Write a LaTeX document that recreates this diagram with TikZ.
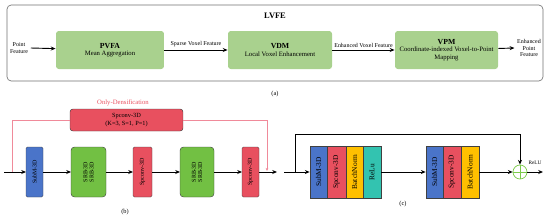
\documentclass[tikz,border=0pt]{standalone}
\usepackage{fontspec}
\setmainfont{Liberation Serif}
\usetikzlibrary{arrows.meta, fit}
\definecolor{stagegreen}{HTML}{A9D18E}
\definecolor{srbgreen}{HTML}{72C043}
\definecolor{submblue}{HTML}{4A74C9}
\definecolor{convred}{HTML}{E8505F}
\definecolor{bnyellow}{HTML}{FFC000}
\definecolor{reluteal}{HTML}{33C3B0}
\definecolor{denspink}{HTML}{F08A9A}
\definecolor{sumgreen}{HTML}{7CCB4A}
\definecolor{framegray}{HTML}{707070}

\begin{document}
\begin{tikzpicture}[
  x=0.05cm, y=-0.05cm,
  >={Stealth[length=2.4mm, width=2mm]},
  line width=1.3pt,
  stage/.style={fill=stagegreen, rounded corners=4pt, align=center,
    minimum height=1.9cm, inner sep=1pt, font=\fontsize{9.5}{10.5}\selectfont},
  flow/.style={->, black, line width=1.3pt},
  lbl/.style={font=\fontsize{8.5}{9.5}\selectfont, align=center},
  vblock/.style={rotate=90, draw=black!75, line width=0.6pt, inner sep=0pt,
    outer sep=0pt, align=center, font=\fontsize{8.5}{9}\selectfont},
  cblock/.style={vblock, rounded corners=0pt, minimum width=2.6cm,
    font=\fontsize{10.5}{11}\selectfont},
  densline/.style={denspink, line width=0.9pt},
  caption/.style={font=\fontsize{9}{10}\selectfont}
]
\useasboundingbox (0,0) rectangle (550,220);

% ── (a) LVFE overview ──
\draw[framegray, line width=0.9pt, rounded corners=6pt] (7,5) rectangle (543,81);
\node[font=\fontsize{12}{13}\selectfont\bfseries] (lvfe) at (275,16) {LVFE};

\node[stage, minimum width=5.4cm] (pvfa) at (110,50)
  {{\fontsize{11}{12}\selectfont\bfseries PVFA}\\Mean Aggregation};
\node[stage, minimum width=5.2cm] (vdm) at (280,50)
  {{\fontsize{11}{12}\selectfont\bfseries VDM}\\Local Voxel Enhancement};
\node[stage, minimum width=5.15cm] (vpm) at (446.5,50)
  {{\fontsize{11}{12}\selectfont\bfseries VPM}\\Coordinate-indexed Voxel-to-Point\\Mapping};

\node[lbl] (ptin) at (19,48) {Point\\Feature};
\node[lbl] (ptout) at (529,48) {Enhanced\\Point\\Feature};

\draw[flow] (ptin.east) -- (pvfa);
\draw[flow] (pvfa) -- node[lbl, above] {Sparse Voxel Feature} (vdm);
\draw[flow] (vdm) -- node[lbl, above] {Enhanced Voxel Feature} (vpm);
\draw[flow] (vpm) -- (ptout.west);

\node[caption] (capa) at (275,94) {(a)};

% ── (b) densification branch ──
\node[convred, font=\fontsize{9.5}{10.5}\selectfont] (densnote) at (123,103) {Only-Densification};
\node[fill=convred, draw=black!75, line width=0.6pt, rounded corners=4pt,
  minimum width=5.65cm, minimum height=1.1cm, align=center, inner sep=0pt,
  font=\fontsize{9}{10.5}\selectfont] (densconv) at (126.5,120)
  {Spconv-3D\\(K=3, S=1, P=1)};

\coordinate (bin) at (4,172);
\coordinate (dsplit) at (12,172);
\coordinate (dmerge) at (267,171);
\coordinate (bout) at (277,172);

\node[vblock, fill=submblue, rounded corners=2pt, minimum width=2.5cm,
  minimum height=0.85cm] (subm) at (34.5,172) {SubM-3D};
\node[vblock, fill=srbgreen, rounded corners=5pt, minimum width=2.5cm,
  minimum height=1.75cm] (srba) at (88.5,172) {SRB-3D\\SRB-3D};
\node[vblock, fill=convred, rounded corners=2pt, minimum width=2.5cm,
  minimum height=0.95cm] (spca) at (142.5,172) {Spconv-3D};
\node[vblock, fill=srbgreen, rounded corners=5pt, minimum width=2.5cm,
  minimum height=1.7cm] (srbb) at (197,172) {SRB-3D\\SRB-3D};
\node[vblock, fill=convred, rounded corners=2pt, minimum width=2.5cm,
  minimum height=0.85cm] (spcb) at (250.5,172) {Spconv-3D};

\draw[densline] (dsplit) |- (densconv.west);
\draw[densline, ->, >={Stealth[length=1.6mm, width=1.4mm]}] (densconv.east) -| (dmerge);

\draw[flow] (bin) -- (subm);
\draw[flow] (subm) -- (srba);
\draw[flow] (srba) -- (spca);
\draw[flow] (spca) -- (srbb);
\draw[flow] (srbb) -- (spcb);
\draw[flow] (spcb) -- (bout);

\node[caption] (capb) at (125,212) {(b)};

% ── (c) residual block ──
\coordinate (cin) at (284,172);
\coordinate (cskip) at (295,172);
\coordinate (ctop) at (295,134);
\coordinate (cout) at (543,172);

\node[cblock, fill=submblue, minimum height=0.85cm] (csubma) at (318.5,172) {SubM-3D};
\node[cblock, fill=convred, minimum height=0.95cm] (cspca) at (336.5,172) {Spconv-3D};
\node[cblock, fill=bnyellow, minimum height=0.85cm] (cbna) at (354.5,172) {BatchNorm};
\node[cblock, fill=reluteal, minimum height=0.9cm] (crelu) at (372,172) {ReLu};
\node[draw=black!75, line width=1pt, inner sep=0pt, fit=(csubma)(crelu)] (grpa) {};

\node[cblock, fill=submblue, minimum height=0.85cm] (csubmb) at (434.5,172) {SubM-3D};
\node[cblock, fill=convred, minimum height=0.9cm] (cspcb) at (452,172) {Spconv-3D};
\node[cblock, fill=bnyellow, minimum height=0.9cm] (cbnb) at (470,172) {BatchNorm};
\node[draw=black!75, line width=1pt, inner sep=0pt, fit=(csubmb)(cbnb)] (grpb) {};

\node[circle, draw=sumgreen, line width=1pt, minimum size=0.7cm, inner sep=0pt] (sum) at (520,172) {};
\draw[sumgreen, line width=1pt] (sum.north) -- (sum.south) (sum.west) -- (sum.east);

\draw[flow] (cin) -- (grpa);
\draw[flow] (cskip) -- (ctop) -| (sum.north);
\draw[flow] (grpa) -- (grpb);
\draw[flow] (grpb) -- (sum);
\draw[flow] (sum) -- (cout);
\node[font=\fontsize{7.5}{8}\selectfont] (relulbl) at (535,163) {ReLU};

\node[caption] (capc) at (403,204) {(c)};

\end{tikzpicture}
\end{document}
